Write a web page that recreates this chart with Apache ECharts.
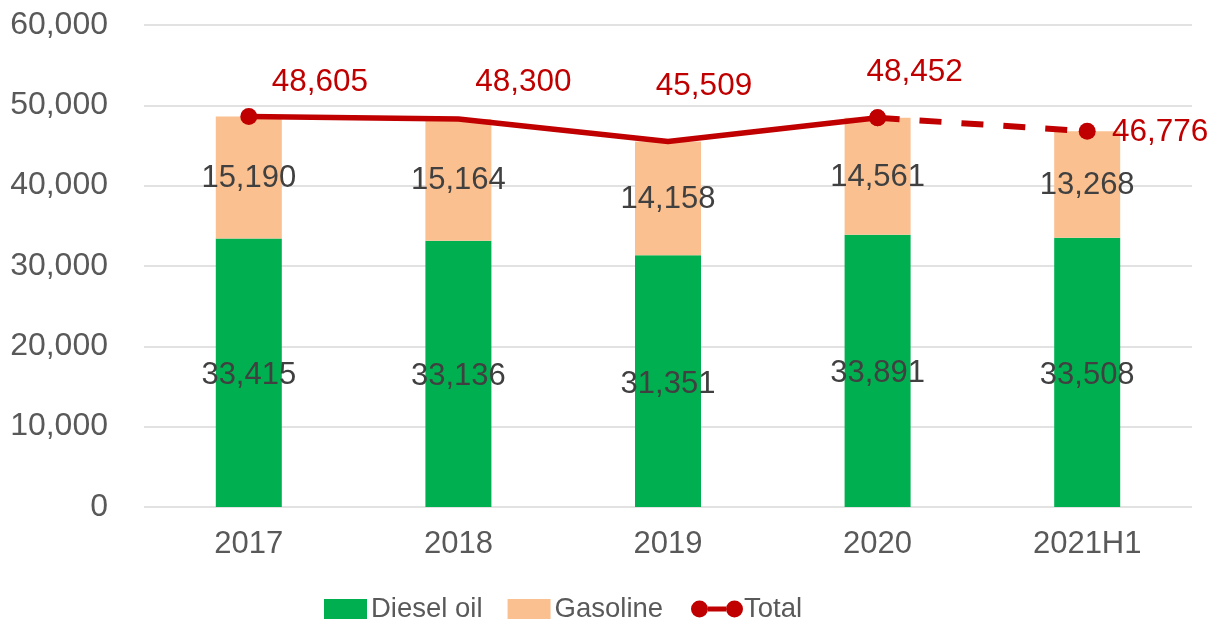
<!DOCTYPE html>
<html>
<head>
<meta charset="utf-8">
<script src="https://cdn.jsdelivr.net/npm/echarts@6/dist/echarts.min.js"></script>
<style>
  html, body { margin: 0; padding: 0; background: #fff; }
  #chart { width: 1211px; height: 621px; }
</style>
</head>
<body>
<div id="chart"></div>
<script>
const categories = ['2017', '2018', '2019', '2020', '2021H1'];
const diesel = [33415, 33136, 31351, 33891, 33508];
const gasoline = [15190, 15164, 14158, 14561, 13268];
const total = [48605, 48300, 45509, 48452, 46776];

const FONT = 'Liberation Sans, Arial, sans-serif';
const RED = '#C00000';
const fmt = v => Number(v).toLocaleString('en-US');

// label offsets for the total line (relative to the point)
const totalOffsets = [[71, -34], [65, -37], [36, -55], [37, -45], [73, 1]];
const markerShown = [true, false, false, true, true];

const solidData = total.map((v, i) => {
  if (i === 4) return '-';
  return {
    value: v,
    itemStyle: { color: markerShown[i] ? RED : 'rgba(0,0,0,0)' },
    label: { offset: totalOffsets[i] }
  };
});
const dashData = total.map((v, i) => {
  if (i < 3) return '-';
  return {
    value: v,
    label: { show: i === 4, offset: totalOffsets[i] }
  };
});

const totalIcon = 'path://M0,8.5a8.5,8.5 0 1,0 17,0a8.5,8.5 0 1,0 -17,0Z M35,8.5a8.5,8.5 0 1,0 17,0a8.5,8.5 0 1,0 -17,0Z M17,6h18v5h-18Z';

const chart = echarts.init(document.getElementById('chart'));
chart.setOption({
  animation: false,
  textStyle: { fontFamily: FONT },
  grid: { left: 144, right: 19, top: 25, bottom: 114 },
  legend: [
    {
      data: [{ name: 'Diesel oil', icon: 'rect' }, { name: 'Gasoline', icon: 'rect' }],
      left: 319, top: 590,
      itemWidth: 43, itemHeight: 20, itemGap: 25,
      textStyle: { fontSize: 27.5, color: '#595959', fontFamily: FONT, padding: [0, 0, 0, -1] }
    },
    {
      data: [{ name: 'Total', icon: totalIcon, itemStyle: { color: RED } }],
      left: 686, top: 590,
      itemWidth: 52, itemHeight: 17,
      textStyle: { fontSize: 27.5, color: '#595959', fontFamily: FONT, padding: [0, 0, 0, -4] }
    }
  ],
  xAxis: {
    type: 'category',
    data: categories,
    axisLine: { show: false },
    axisTick: { show: false },
    axisLabel: { fontSize: 31, color: '#595959', margin: 22 }
  },
  yAxis: {
    type: 'value',
    min: 0, max: 60000, interval: 10000,
    axisLine: { show: false },
    axisTick: { show: false },
    splitLine: { lineStyle: { color: '#D9D9D9', width: 1.5 } },
    axisLabel: { fontSize: 32, color: '#595959', margin: 36, formatter: fmt }
  },
  series: [
    {
      name: 'Diesel oil', type: 'bar', stack: 'oil', barWidth: 66,
      itemStyle: { color: '#00B050' },
      label: { show: true, position: 'inside', offset: [0, 3], fontSize: 31, color: '#404040', formatter: p => fmt(p.value) },
      data: diesel
    },
    {
      name: 'Gasoline', type: 'bar', stack: 'oil', barWidth: 66,
      itemStyle: { color: '#FAC090' },
      label: { show: true, position: 'inside', offset: [0, 1], fontSize: 31, color: '#404040', formatter: p => fmt(p.value) },
      data: gasoline
    },
    {
      name: 'Total', type: 'line', symbol: 'circle', symbolSize: 17, z: 5,
      lineStyle: { color: RED, width: 5.5 },
      itemStyle: { color: RED },
      label: { show: true, position: 'inside', fontSize: 31.5, color: RED, formatter: p => fmt(p.value) },
      data: solidData
    },
    {
      name: 'Total (H1)', type: 'line', symbol: 'circle', symbolSize: 17, z: 5,
      lineStyle: { color: RED, width: 6, type: [22, 20] },
      itemStyle: { color: RED },
      label: { show: true, position: 'inside', fontSize: 31.5, color: RED, formatter: p => fmt(p.value) },
      data: dashData
    }
  ]
});
</script>
</body>
</html>
